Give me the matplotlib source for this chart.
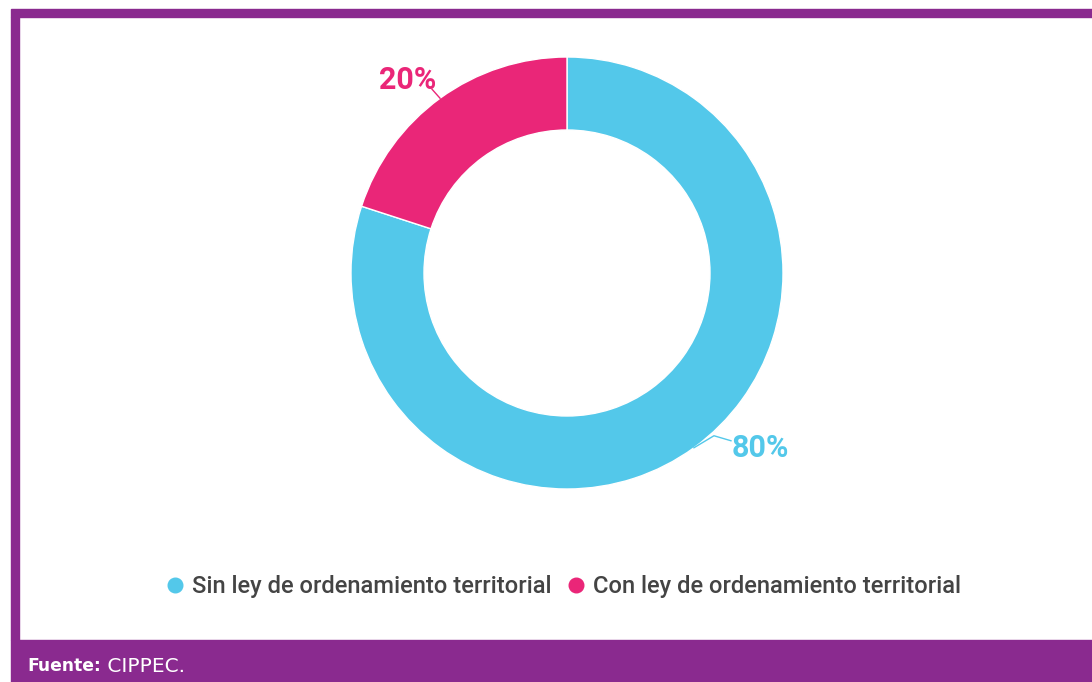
import matplotlib.pyplot as plt
from matplotlib.patches import Rectangle
from matplotlib.lines import Line2D
import numpy as np

# Data
categories = ["Sin ley de ordenamiento territorial", "Con ley de ordenamiento territorial"]
values = [80, 20]
colors = ["#53C8EA", "#EA2678"]
pct_labels = ["80%", "20%"]

PURPLE = "#8A2A8F"
W, H = 1092, 682

fig = plt.figure(figsize=(W / 100, H / 100), dpi=100)
ax = fig.add_axes([0, 0, 1, 1])

# purple frame (top bar, left bar, bottom band)
ax.add_patch(Rectangle((11, H - 17), W - 11, 8, color=PURPLE, zorder=1))
ax.add_patch(Rectangle((11, H - 640), 8, 640 - 17, color=PURPLE, zorder=1))
ax.add_patch(Rectangle((11, 0), W - 11, H - 640, color=PURPLE, zorder=1))

# donut
cx, cy, R = 567, H - 273, 216
wedges, _ = ax.pie(values, colors=colors, startangle=90, counterclock=False,
                   center=(cx, cy), radius=R, frame=True,
                   wedgeprops=dict(width=73, edgecolor="white", linewidth=1))
ax.set_xlim(0, W)
ax.set_ylim(0, H)
ax.set_aspect("auto")
ax.axis("off")

# percent labels with leader lines
for w, lab, col in zip(wedges, pct_labels, colors):
    ang = np.deg2rad((w.theta1 + w.theta2) / 2)
    x0, y0 = cx + R * np.cos(ang), cy + R * np.sin(ang)
    if np.cos(ang) > 0:
        x1, y1 = x0 + 20, y0 + 12
        x2, y2 = x1 + 17, y1 - 5
        ax.plot([x0, x1, x2], [y0, y1, y2], color=col, lw=1, zorder=3)
        ax.text(x2 + 1, y2 - 7, lab, color=col, fontsize=22, fontweight="bold",
                family="Roboto", ha="left", va="center")
    else:
        x1, y1 = x0 - 8, y0 + 9
        ax.plot([x0, x1], [y0, y1], color=col, lw=1, zorder=3)
        ax.text(x1 + 4, y1 + 9, lab, color=col, fontsize=22, fontweight="bold",
                family="Roboto", ha="right", va="center")

# legend
handles = [Line2D([], [], marker="o", linestyle="", markersize=10.5,
                  markerfacecolor=c, markeredgecolor=c) for c in colors]
ax.legend(handles, categories, loc="center", bbox_to_anchor=(562 / W, 1 - 587 / H),
          ncol=2, frameon=False, handletextpad=0.25, columnspacing=0.5,
          handlelength=1.0, prop={"family": "Roboto", "size": 17.1, "weight": "medium"},
          labelcolor="#444444")

# source note
t = ax.text(27, H - 666, "Fuente:", color="white", fontsize=12.3, fontweight="bold",
            family="DejaVu Sans", ha="left", va="center")
ax.annotate(" CIPPEC.", xycoords=t, xy=(1, 0.5), va="center", ha="left",
            color="white", fontsize=14.5, family="DejaVu Sans")

fig.savefig("out.png", dpi=100, facecolor="white")
